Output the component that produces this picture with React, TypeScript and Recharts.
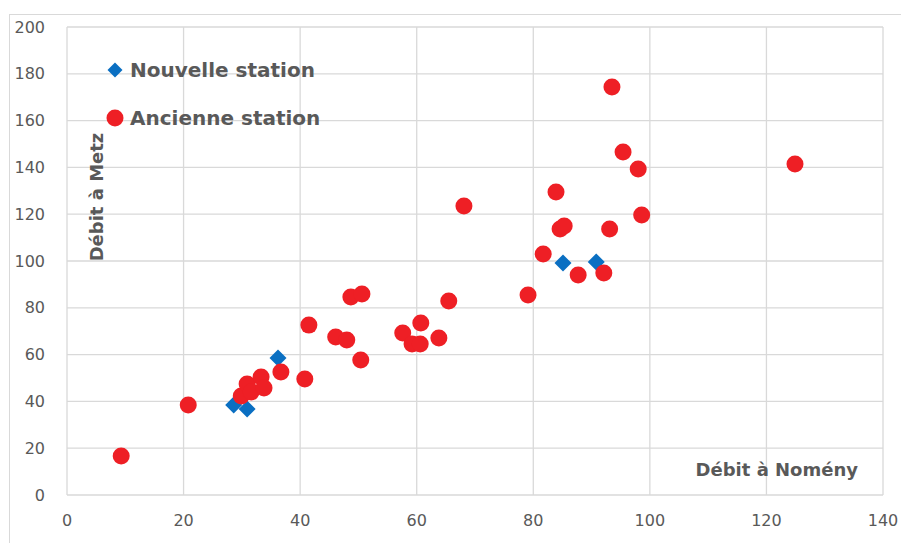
import { ScatterChart, Scatter, XAxis, YAxis, CartesianGrid } from "recharts";

const BLUE = "#0a6fc2";
const RED = "#ee1f25";
const GRID = "#d9d9d9";
const TEXT = "#595959";
const FONT = "'DejaVu Sans', sans-serif";

const xTicks = [0, 20, 40, 60, 80, 100, 120, 140];
const yTicks = [0, 20, 40, 60, 80, 100, 120, 140, 160, 180, 200];

// Nouvelle station
const nouvelleX = [28.6, 30.9, 36.2, 85.1, 90.8];
const nouvelleY = [38.5, 36.8, 58.5, 99.1, 99.6];

// Ancienne station
const ancienneX = [
  9.3, 20.8, 29.9, 30.9, 31.6, 33.3, 33.8, 36.7, 40.8, 41.5, 46.1, 48.0, 48.7,
  50.6, 50.4, 57.6, 59.2, 60.7, 60.6, 63.8, 65.5, 68.1, 79.1, 81.7, 83.9, 84.6,
  85.3, 87.7, 92.1, 93.1, 93.5, 95.4, 98.0, 98.6, 124.9,
];
const ancienneY = [
  16.7, 38.5, 42.3, 47.4, 44.0, 50.4, 45.7, 52.6, 49.6, 72.6, 67.5, 66.2, 84.6,
  85.9, 57.7, 69.2, 64.5, 73.5, 64.5, 67.1, 82.9, 123.5, 85.5, 103.0, 129.5, 113.7,
  115.0, 94.0, 94.9, 113.7, 174.4, 146.6, 139.3, 119.7, 141.5,
];

const nouvelle = nouvelleX.map((x, i) => ({ x, y: nouvelleY[i] }));
const ancienne = ancienneX.map((x, i) => ({ x, y: ancienneY[i] }));

const tickStyle = { fill: TEXT, fontSize: 16, fontFamily: FONT };

function Diamond({ cx, cy, r = 8.5 }: { cx?: number; cy?: number; r?: number }) {
  if (cx == null || cy == null) return null;
  return (
    <path
      d={`M${cx},${cy - r} L${cx + r},${cy} L${cx},${cy + r} L${cx - r},${cy} Z`}
      fill={BLUE}
    />
  );
}

function Dot({ cx, cy }: { cx?: number; cy?: number }) {
  if (cx == null || cy == null) return null;
  return <circle cx={cx} cy={cy} r={8.5} fill={RED} />;
}

const titleStyle: React.CSSProperties = {
  position: "absolute",
  fontFamily: FONT,
  fontWeight: "bold",
  color: TEXT,
  whiteSpace: "nowrap",
};

function LegendRow({ top, label, marker }: { top: number; label: string; marker: "diamond" | "circle" }) {
  return (
    <div
      style={{
        ...titleStyle,
        left: 106,
        top,
        height: 24,
        display: "flex",
        alignItems: "center",
        fontSize: 20,
        lineHeight: "24px",
      }}
    >
      <svg width={18} height={18}>
        {marker === "diamond" ? <Diamond cx={9} cy={9} r={7.5} /> : <Dot cx={9} cy={9} />}
      </svg>
      <span style={{ marginLeft: 6 }}>{label}</span>
    </div>
  );
}

export default function App() {
  return (
    <div
      style={{
        position: "absolute",
        left: 0,
        top: 0,
        width: 901,
        height: 543,
        overflow: "hidden",
        background: "#fff",
      }}
    >
      <div
        style={{
          position: "absolute",
          left: 9,
          top: 14,
          width: 1000,
          height: 1000,
          border: `1px solid ${GRID}`,
        }}
      />
      <div style={{ position: "absolute", left: 0, top: 0 }}>
        <ScatterChart width={901} height={543} margin={{ top: 27, right: 18, bottom: 0, left: 0 }}>
          <CartesianGrid stroke={GRID} strokeWidth={1.3} />
          <XAxis
            type="number"
            dataKey="x"
            domain={[0, 140]}
            ticks={xTicks}
            height={48}
            axisLine={false}
            tickLine={false}
            tickMargin={14}
            tick={tickStyle}
            interval={0}
          />
          <YAxis
            type="number"
            dataKey="y"
            domain={[0, 200]}
            ticks={yTicks}
            width={67}
            axisLine={false}
            tickLine={false}
            tickMargin={16}
            tick={tickStyle}
            interval={0}
          />
          <Scatter data={nouvelle} shape={<Diamond />} isAnimationActive={false} />
          <Scatter data={ancienne} shape={<Dot />} isAnimationActive={false} />
        </ScatterChart>
      </div>
      <LegendRow top={58} label="Nouvelle station" marker="diamond" />
      <LegendRow top={106} label="Ancienne station" marker="circle" />
      <div
        style={{
          ...titleStyle,
          left: 97,
          top: 197,
          fontSize: 18,
          lineHeight: "22px",
          transform: "translate(-50%, -50%) rotate(-90deg)",
        }}
      >
        Débit à Metz
      </div>
      <div style={{ ...titleStyle, right: 43, top: 459, fontSize: 18, lineHeight: "22px" }}>
        Débit à Nomény
      </div>
    </div>
  );
}
